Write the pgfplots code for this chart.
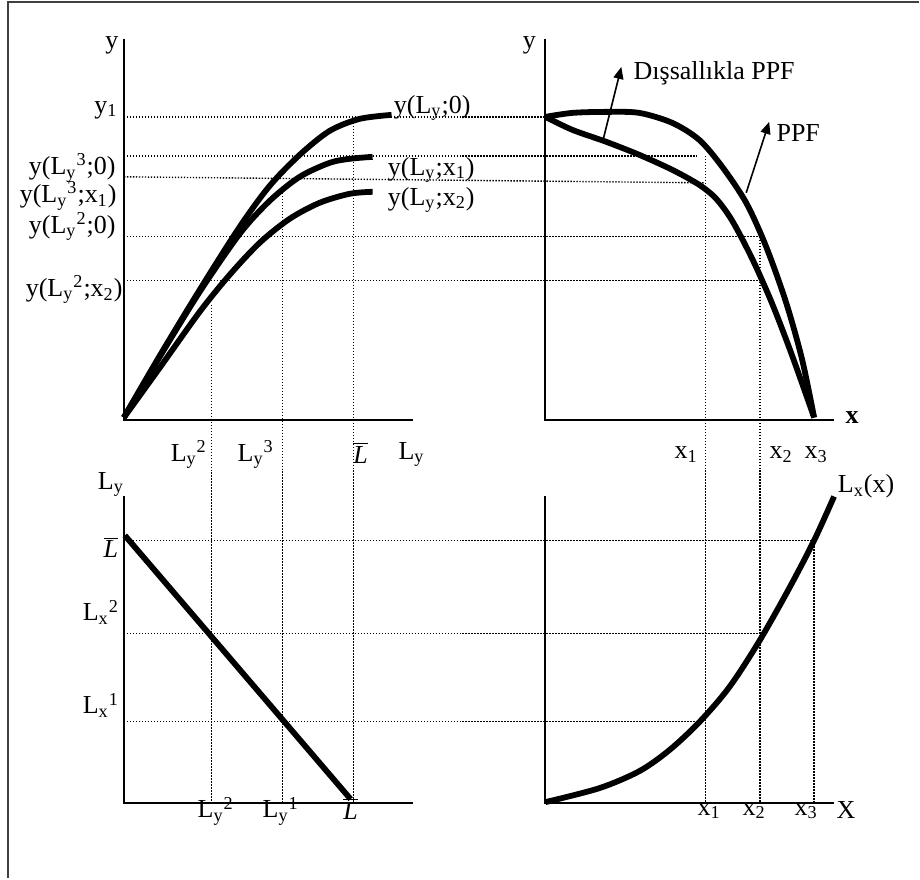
\documentclass[border=0pt]{standalone}
\usepackage{pgfplots}
\pgfplotsset{compat=1.18}
\usetikzlibrary{arrows.meta}
\usepackage{fontspec}
\setmainfont{Liberation Serif}
\newcommand{\Lyy}[1]{L\textsubscript{y}\textsuperscript{#1}}
\newcommand{\Lxx}[1]{L\textsubscript{x}\textsuperscript{#1}}
\newcommand{\Lbar}{$\overline{\textit{L}}$}
\begin{document}
\begin{tikzpicture}[font=\fontsize{13}{15}\selectfont, every node/.style={inner sep=0pt}]
\begin{axis}[
  width=460pt, height=439.5pt, scale only axis,
  xmin=0, xmax=920, ymin=0, ymax=879, y dir=reverse,
  hide axis, clip=false,
  dot/.style={black, line width=0.7pt, dash pattern=on 0.7pt off 0.8pt},
  ax/.style={black, line width=1pt},
  crv/.style={black, line width=2.9pt, smooth},
]
% fix the picture's extent to the whole canvas
\draw[draw=none] (axis cs:0,0) rectangle (axis cs:920,879);
% frame
\addplot[line width=1pt, black!75] coordinates {(8,879) (8,2) (920,2)};
% axes
\addplot[ax] coordinates {(124,39) (124,420) (413,420)};
\addplot[ax] coordinates {(546,39) (546,420) (835,420)};
\addplot[ax] coordinates {(124,497) (124,804) (413,804)};
\addplot[ax] coordinates {(546,497) (546,804) (835,804)};
% dotted horizontals
\addplot[dot] coordinates {(124,117) (546,117)};
\addplot[dot] coordinates {(124,156) (698,156)};
\addplot[dot] coordinates {(124,177) (705,183)};
\addplot[dot] coordinates {(124,237) (761,237)};
\addplot[dot] coordinates {(124,281) (761,281)};
\addplot[dot] coordinates {(124,541) (815,541)};
\addplot[dot] coordinates {(124,634) (761,634)};
\addplot[dot] coordinates {(124,722) (706,722)};
% dotted verticals
\addplot[dot] coordinates {(212,305) (212,803)};
\addplot[dot] coordinates {(283,193) (283,803)};
\addplot[dot] coordinates {(354,120) (354,803)};
\addplot[dot] coordinates {(706,156) (706,803)};
\addplot[dot] coordinates {(761,237) (761,803)};
\addplot[dot] coordinates {(815,541) (815,803)};
% top-left curves
\addplot[crv] coordinates {(124,418) (160,356) (200,290) (240,227) (270,186) (300,155) (330,131) (360,119) (392,115)};
\addplot[crv] coordinates {(124,418) (160,357) (200,292) (240,234) (270,201) (300,177) (330,163) (350,159) (373,157)};
\addplot[crv] coordinates {(124,418) (160,368) (200,312) (230,275) (260,243) (290,219) (320,203) (350,194) (373,192)};
% top-right PPF curves
\addplot[crv] coordinates {(546,117) (573,113) (607,112) (640,113) (673,123) (700,140) (723,167) (747,203) (767,247) (787,303) (803,360) (815,418)};
\addplot[crv] coordinates {(546,117) (573,130) (607,142) (640,155) (673,170) (700,185) (717,199) (733,221) (753,259) (773,304) (793,356) (815,418)};
% arrows
\addplot[black, line width=0.8pt, -{Triangle[length=6pt,width=5pt]}] coordinates {(603,143) (622,67)};
\addplot[black, line width=0.8pt, -{Triangle[length=6pt,width=5pt]}] coordinates {(747,193) (770,122)};
% bottom-left line
\addplot[black, line width=2.9pt] coordinates {(125,536) (351,800)};
% bottom-right curve
\addplot[crv] coordinates {(546,803) (600,789) (640,772) (670,751) (700,723) (730,688) (760,642) (790,589) (815,541) (835,497)};

% ---- labels: top-left
\node at (axis cs:112,45) {y};
\node[anchor=east] at (axis cs:118,110) {y\textsubscript{1}};
\node[anchor=east] at (axis cs:116,168) {y(\Lyy{3};0)};
\node[anchor=east] at (axis cs:117,196) {y(\Lyy{3};x\textsubscript{1})};
\node[anchor=east] at (axis cs:116,227) {y(\Lyy{2};0)};
\node[anchor=east] at (axis cs:123,290) {y(\Lyy{2};x\textsubscript{2})};
\node[anchor=west] at (axis cs:394,108) {y(L\textsubscript{y};0)};
\node[anchor=west] at (axis cs:388,170) {y(L\textsubscript{y};x\textsubscript{1})};
\node[anchor=west] at (axis cs:388,200) {y(L\textsubscript{y};x\textsubscript{2})};
\node at (axis cs:189,455) {\Lyy{2}};
\node at (axis cs:256,455) {\Lyy{3}};
\node at (axis cs:361,453) {\Lbar};
\node at (axis cs:412,455) {L\textsubscript{y}};
% ---- labels: top-right
\node at (axis cs:530,45) {y};
\node[anchor=west] at (axis cs:634,73) {Dışsallıkla PPF};
\node[anchor=west] at (axis cs:777,133) {PPF};
\node at (axis cs:853,418) {\textbf{x}};
\node at (axis cs:687,455) {x\textsubscript{1}};
\node at (axis cs:782,455) {x\textsubscript{2}};
\node at (axis cs:817,455) {x\textsubscript{3}};
% ---- labels: bottom-left
\node at (axis cs:111,485) {L\textsubscript{y}};
\node at (axis cs:111,548) {\Lbar};
\node at (axis cs:101,613) {\Lxx{2}};
\node at (axis cs:101,706) {\Lxx{1}};
\node at (axis cs:216,812) {\Lyy{2}};
\node at (axis cs:281,812) {\Lyy{1}};
\node at (axis cs:351,810) {\Lbar};
% ---- labels: bottom-right
\node at (axis cs:867,487) {L\textsubscript{x}(x)};
\node at (axis cs:710,812) {x\textsubscript{1}};
\node at (axis cs:755,812) {x\textsubscript{2}};
\node at (axis cs:807,812) {x\textsubscript{3}};
\node at (axis cs:847,811) {X};
\end{axis}
\end{tikzpicture}
\end{document}
